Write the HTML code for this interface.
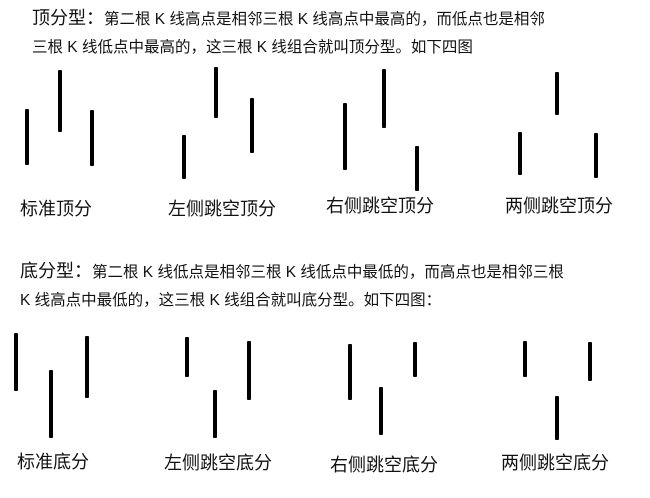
<!DOCTYPE html>
<html><head><meta charset="utf-8"><style>
body{margin:0;width:650px;height:498px;background:#fff;position:relative;overflow:hidden;font-family:"Liberation Sans","Noto Sans CJK SC",sans-serif;color:#111}
.t{position:absolute;white-space:nowrap;font-size:15.5px;line-height:1}
.b{position:absolute;width:4px;background:#000;border-radius:1px}
.l{position:absolute;white-space:nowrap;font-size:18px;line-height:1}
</style></head><body>
<div class="t" style="left:32px;top:9px"><span style="font-size:18px">顶分型：</span>第二根 K 线高点是相邻三根 K 线高点中最高的，而低点也是相邻</div>
<div class="t" style="left:32px;top:40px">三根 K 线低点中最高的，这三根 K 线组合就叫顶分型。如下四图</div>

<div class="b" style="left:25px;top:109px;height:56px"></div>
<div class="b" style="left:58px;top:70px;height:62px"></div>
<div class="b" style="left:90px;top:110px;height:56px"></div>
<div class="b" style="left:182px;top:135px;height:44px"></div>
<div class="b" style="left:214px;top:67px;height:51px"></div>
<div class="b" style="left:250px;top:98px;height:55px"></div>
<div class="b" style="left:343px;top:103px;height:67px"></div>
<div class="b" style="left:382px;top:69px;height:59px"></div>
<div class="b" style="left:415px;top:146px;height:45px"></div>
<div class="b" style="left:518px;top:132px;height:43px"></div>
<div class="b" style="left:555px;top:72px;height:43px"></div>
<div class="b" style="left:594px;top:133px;height:45px"></div>

<div class="l" style="left:20px;top:200px">标准顶分</div>
<div class="l" style="left:168px;top:200px">左侧跳空顶分</div>
<div class="l" style="left:326px;top:197px">右侧跳空顶分</div>
<div class="l" style="left:505px;top:197px">两侧跳空顶分</div>

<div class="t" style="left:20px;top:262px"><span style="font-size:18px">底分型：</span>第二根 K 线低点是相邻三根 K 线低点中最低的，而高点也是相邻三根</div>
<div class="t" style="left:20px;top:293px">K 线高点中最低的，这三根 K 线组合就叫底分型。如下四图：</div>

<div class="b" style="left:14px;top:333px;height:58px"></div>
<div class="b" style="left:49px;top:370px;height:68px"></div>
<div class="b" style="left:85px;top:336px;height:62px"></div>
<div class="b" style="left:185px;top:337px;height:40px"></div>
<div class="b" style="left:213px;top:390px;height:48px"></div>
<div class="b" style="left:247px;top:341px;height:59px"></div>
<div class="b" style="left:348px;top:344px;height:56px"></div>
<div class="b" style="left:379px;top:387px;height:48px"></div>
<div class="b" style="left:413px;top:342px;height:35px"></div>
<div class="b" style="left:523px;top:341px;height:36px"></div>
<div class="b" style="left:555px;top:396px;height:44px"></div>
<div class="b" style="left:588px;top:342px;height:39px"></div>

<div class="l" style="left:17px;top:453px">标准底分</div>
<div class="l" style="left:164px;top:454px">左侧跳空底分</div>
<div class="l" style="left:330px;top:456px">右侧跳空底分</div>
<div class="l" style="left:501px;top:454px">两侧跳空底分</div>
</body></html>
